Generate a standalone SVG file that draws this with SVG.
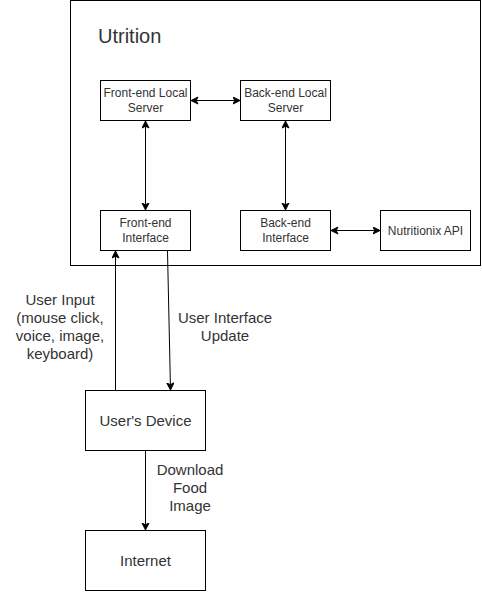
<svg xmlns="http://www.w3.org/2000/svg" width="482" height="592" viewBox="0 0 482 592">
<defs>
<style>
.box{fill:#fff;stroke:#000;stroke-width:1}
.t{font-family:"Liberation Sans",Arial,sans-serif;fill:#333;text-anchor:middle}
.s{font-size:12px}
.m{font-size:15px}
.c{stroke:#000;stroke-width:1;fill:none}
</style>
<marker id="a" markerWidth="9" markerHeight="9" refX="7.5" refY="4" orient="auto-start-reverse" markerUnits="userSpaceOnUse">
<path d="M0.5,0.5 L7.5,4 L0.5,7.5 L2.3,4 z" fill="#000" stroke="#000" stroke-width="1" stroke-linejoin="miter"/>
</marker>
</defs>
<rect width="482" height="592" fill="#fff"/>
<g id="container">
<rect class="box" x="70.5" y="0.5" width="410" height="265"/>
<text class="t" x="98" y="43" style="font-size:20px;text-anchor:start">Utrition</text>
</g>
<g id="frontend-local-server">
<rect class="box" x="100.5" y="80.5" width="90" height="40"/>
<text class="t s" x="145.5" y="97">Front-end Local</text>
<text class="t s" x="145.5" y="112">Server</text>
</g>
<g id="backend-local-server">
<rect class="box" x="240.5" y="80.5" width="90" height="40"/>
<text class="t s" x="285.5" y="97">Back-end Local</text>
<text class="t s" x="285.5" y="112">Server</text>
</g>
<g id="frontend-interface">
<rect class="box" x="100.5" y="210.5" width="90" height="40"/>
<text class="t s" x="145.5" y="227">Front-end</text>
<text class="t s" x="145.5" y="242">Interface</text>
</g>
<g id="backend-interface">
<rect class="box" x="240.5" y="210.5" width="90" height="40"/>
<text class="t s" x="285.5" y="227">Back-end</text>
<text class="t s" x="285.5" y="242">Interface</text>
</g>
<g id="nutritionix-api">
<rect class="box" x="380.5" y="210.5" width="90" height="40"/>
<text class="t s" x="425.5" y="234.5">Nutritionix API</text>
</g>
<g id="users-device">
<rect class="box" x="85.5" y="390.5" width="120" height="60"/>
<text class="t m" x="145.5" y="426">User's Device</text>
</g>
<g id="internet">
<rect class="box" x="85.5" y="530.5" width="120" height="60"/>
<text class="t m" x="145.5" y="566">Internet</text>
</g>
<g id="connectors">
<line class="c" x1="191" y1="100.5" x2="240" y2="100.5" marker-start="url(#a)" marker-end="url(#a)"/>
<line class="c" x1="145.5" y1="121" x2="145.5" y2="210" marker-start="url(#a)" marker-end="url(#a)"/>
<line class="c" x1="285.5" y1="121" x2="285.5" y2="210" marker-start="url(#a)" marker-end="url(#a)"/>
<line class="c" x1="331" y1="230.5" x2="380" y2="230.5" marker-start="url(#a)" marker-end="url(#a)"/>
<line class="c" x1="115.5" y1="390" x2="115.5" y2="251" marker-end="url(#a)"/>
<line class="c" x1="167.5" y1="251" x2="170.5" y2="390" marker-end="url(#a)"/>
<line class="c" x1="145.5" y1="451" x2="145.5" y2="530" marker-end="url(#a)"/>
<g id="connector-labels">
<text class="t m" x="60" y="304.5">User Input</text>
<text class="t m" x="60" y="322.5">(mouse click,</text>
<text class="t m" x="60" y="340.5">voice, image,</text>
<text class="t m" x="60" y="358.5">keyboard)</text>
<text class="t m" x="225" y="322.5">User Interface</text>
<text class="t m" x="225" y="340.5">Update</text>
<text class="t m" x="190" y="474.5">Download</text>
<text class="t m" x="190" y="492.5">Food</text>
<text class="t m" x="190" y="510.5">Image</text>
</g>
</g>
</svg>
